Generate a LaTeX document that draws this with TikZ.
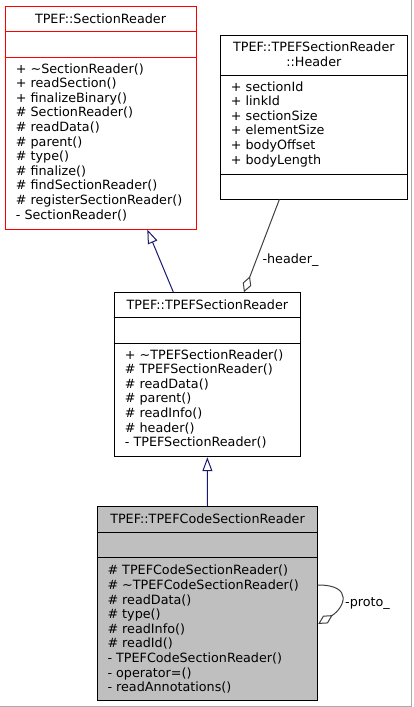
\documentclass[tikz,border=0pt]{standalone}
\usepackage{fontspec}
\setmainfont{DejaVu Sans}
\usetikzlibrary{arrows.meta,calc}
\definecolor{boxgrey}{RGB}{191,191,191}
\definecolor{navy}{RGB}{25,25,112}
\definecolor{aggrey}{RGB}{64,64,64}
\definecolor{framegrey}{RGB}{170,170,170}
\tikzset{
  classbox/.style={draw=black, line width=1pt, inner sep=0pt, rectangle},
  txt/.style={inner sep=0pt, font=\fontsize{12.75}{14.6}\selectfont},
  members/.style={txt, anchor=north west, align=left},
  inherit/.style={draw=navy, line width=1pt, -{Triangle[open, length=14pt, width=10pt, line width=1pt]}},
  aggreg/.style={draw=aggrey, line width=1pt, -{Diamond[open, length=17pt, width=9pt, line width=1pt]}},
  sep/.style={line width=1pt}
}
\begin{document}
\begin{tikzpicture}[x=1pt, y=-1pt]
\useasboundingbox (0,0) rectangle (413,707);
\fill[white] (0,0) rectangle (413,707);
\draw[framegrey, line width=1pt] (411.5,0) -- (411.5,706) -- (0,706);

% TPEF::SectionReader
\node[classbox, draw=red, minimum width=191pt, minimum height=223pt] (sr) at (100.5,117.5) {};
\draw[sep, red] (sr.west |- 0,31) -- (sr.east |- 0,31);
\draw[sep, red] (sr.west |- 0,57) -- (sr.east |- 0,57);
\node[txt] (srt) at (100.5,18.5) {TPEF::SectionReader};
\node[members] (srm) at (15.7,63.3) {+ \textasciitilde SectionReader()\\+ readSection()\\+ finalizeBinary()\\\# SectionReader()\\\# readData()\\\# parent()\\\# type()\\\# finalize()\\\# findSectionReader()\\\# registerSectionReader()\\- SectionReader()};

% TPEF::TPEFSectionReader::Header
\node[classbox, minimum width=186.3pt, minimum height=164pt] (hd) at (313.85,117) {};
\draw[sep] (hd.west |- 0,75) -- (hd.east |- 0,75);
\draw[sep] (hd.west |- 0,174) -- (hd.east |- 0,174);
\node[txt, align=center] (hdt) at (313.85,54) {TPEF::TPEFSectionReader\\::Header};
\node[members] (hdm) at (230.7,81.3) {+ sectionId\\+ linkId\\+ sectionSize\\+ elementSize\\+ bodyOffset\\+ bodyLength};

% TPEF::TPEFSectionReader
\node[classbox, minimum width=186.7pt, minimum height=164pt] (tsr) at (207.35,374.7) {};
\draw[sep] (tsr.west |- 0,317.7) -- (tsr.east |- 0,317.7);
\draw[sep] (tsr.west |- 0,343.3) -- (tsr.east |- 0,343.3);
\node[txt] (tsrt) at (207.35,304.3) {TPEF::TPEFSectionReader};
\node[members] (tsrm) at (124.7,349.3) {+ \textasciitilde TPEFSectionReader()\\\# TPEFSectionReader()\\\# readData()\\\# parent()\\\# readInfo()\\\# header()\\- TPEFSectionReader()};

% TPEF::TPEFCodeSectionReader
\node[classbox, fill=boxgrey, minimum width=220.4pt, minimum height=194pt] (csr) at (207.5,603.7) {};
\draw[sep] (csr.west |- 0,532.3) -- (csr.east |- 0,532.3);
\draw[sep] (csr.west |- 0,557.7) -- (csr.east |- 0,557.7);
\node[txt] (csrt) at (207.5,519) {TPEF::TPEFCodeSectionReader};
\node[members] (csrm) at (107.3,565) {\# TPEFCodeSectionReader()\\\# \textasciitilde TPEFCodeSectionReader()\\\# readData()\\\# type()\\\# readInfo()\\\# readId()\\- TPEFCodeSectionReader()\\- operator=()\\- readAnnotations()};

% connectors
\draw[inherit] ([xshift=-34pt]tsr.north) -- ([xshift=46.8pt]sr.south);
\draw[inherit] (csr.north) -- (tsr.south);
\draw[aggreg] ([xshift=-34.5pt]hd.south) -- ([xshift=36.6pt]tsr.north);
\node[txt, anchor=west] (lh) at (262.3,260) {-header\_};
\draw[aggreg] ([yshift=18.7pt]csr.east) .. controls +(36,0) and +(26,-16) .. ([yshift=-20.3pt]csr.east);
\node[txt, anchor=west] (lp) at (345,603.3) {-proto\_};
\end{tikzpicture}
\end{document}
